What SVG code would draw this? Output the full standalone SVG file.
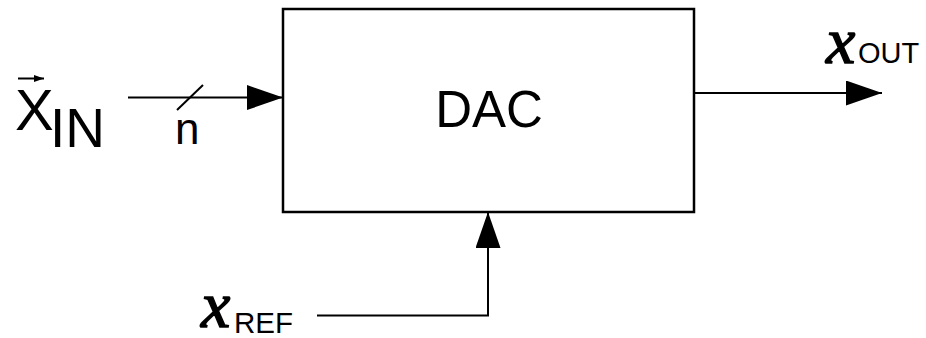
<svg xmlns="http://www.w3.org/2000/svg" width="926" height="338" viewBox="0 0 926 338">
  <defs>
    <style>
      .wire { fill: none; stroke: #000; stroke-width: 2; }
      .box { fill: #fff; stroke: #000; stroke-width: 2.5; }
      .sans { font-family: "Liberation Sans", Arial, sans-serif; fill: #000; }
      .mathx { font-family: "Liberation Serif", "Times New Roman", serif; font-style: italic; fill: #000; stroke: #000; stroke-width: 1.4; }
    </style>
    <marker id="arrow" markerUnits="userSpaceOnUse" markerWidth="36" markerHeight="25" refX="36" refY="12.5" orient="auto">
      <path d="M0,0 L36,12.5 L0,25 Z" fill="#000"/>
    </marker>
    <marker id="accent" markerUnits="userSpaceOnUse" markerWidth="10" markerHeight="7" refX="10" refY="3.5" orient="auto">
      <path d="M0,0 L10,3.5 L0,7 Z" fill="#000"/>
    </marker>
  </defs>

  <g id="connectors">
    <line class="wire" x1="128" y1="97.5" x2="283" y2="97.5" marker-end="url(#arrow)"/>
    <line class="wire" x1="177" y1="110" x2="203" y2="85"/>
    <line class="wire" x1="694" y1="93" x2="882" y2="93" marker-end="url(#arrow)"/>
    <polyline class="wire" points="317,315.5 488,315.5 488,212" marker-end="url(#arrow)"/>
  </g>

  <g id="dac">
    <rect class="box" x="283" y="9" width="411" height="203"/>
    <text class="sans" x="489" y="127" font-size="51" text-anchor="middle">DAC</text>
  </g>

  <g id="input-label">
    <line x1="18" y1="78.5" x2="44" y2="78.5" stroke="#000" stroke-width="2" marker-end="url(#accent)"/>
    <text class="sans" x="15" y="130" font-size="58">X</text>
    <text class="sans" x="50" y="147" font-size="55">IN</text>
    <text class="sans" x="175" y="144" font-size="44">n</text>
  </g>

  <g id="output-label">
    <text class="mathx" x="826" y="63" font-size="66">x</text>
    <text class="sans" x="858" y="63" font-size="29">OUT</text>
  </g>

  <g id="ref-label">
    <text class="mathx" x="201" y="327" font-size="66">x</text>
    <text class="sans" x="234" y="333" font-size="29.5">REF</text>
  </g>
</svg>
